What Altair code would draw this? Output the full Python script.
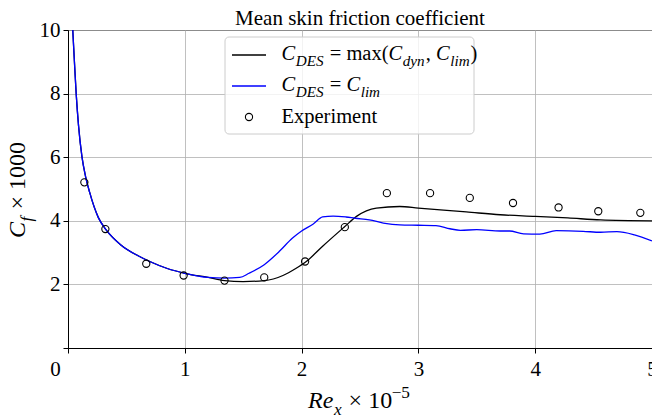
import altair as alt
import pandas as pd

# ---------------- data ----------------
sim_common_x = [0.035, 0.055, 0.07, 0.09, 0.12, 0.15, 0.185, 0.26, 0.33, 0.45, 0.6, 0.7, 0.85, 1.0, 1.2]
sim_common_y = [10.4, 9.0, 8.0, 7.0, 6.0, 5.4, 4.9, 4.1, 3.7, 3.25, 2.9, 2.72, 2.5, 2.35, 2.22]

dyn_x = [1.34, 1.5, 1.68, 1.84, 1.95, 2.04, 2.18, 2.37, 2.47, 2.64, 2.84, 3.0, 3.41, 3.7, 4.0, 4.28, 4.56, 5.0]
dyn_y = [2.12, 2.09, 2.12, 2.28, 2.5, 2.72, 3.2, 3.82, 4.14, 4.4, 4.45, 4.40, 4.28, 4.19, 4.14, 4.09, 4.03, 4.0]

lim_x = [1.34, 1.47, 1.55, 1.68, 1.81, 1.92, 2.0, 2.1, 2.18, 2.27, 2.38, 2.46, 2.58, 2.7, 2.84,
         3.0, 3.15, 3.27, 3.36, 3.5, 3.7, 3.78, 3.9, 4.04, 4.18, 4.41, 4.56, 4.7, 4.85, 5.0]
lim_y = [2.2, 2.22, 2.35, 2.62, 3.04, 3.45, 3.68, 3.9, 4.12, 4.15, 4.12, 4.08, 4.03, 3.93, 3.87,
         3.86, 3.85, 3.75, 3.7, 3.72, 3.68, 3.68, 3.59, 3.58, 3.69, 3.67, 3.64, 3.66, 3.56, 3.37]

exp_x = [0.14, 0.32, 0.67, 0.99, 1.34, 1.68, 2.03, 2.37, 2.73, 3.10, 3.44, 3.81, 4.20, 4.54, 4.90]
exp_y = [5.21, 3.74, 2.65, 2.28, 2.12, 2.22, 2.72, 3.80, 4.87, 4.87, 4.72, 4.56, 4.42, 4.30, 4.25]

x_ticks = [0, 1, 2, 3, 4, 5]
y_ticks = [0, 2, 4, 6, 8, 10]

title_text = "Mean skin friction coefficient"
# rich-text labels: (text, italic, kind) kind: n=normal, sub, sup
leg1 = [("C", True, "n"), ("DES", True, "sub"), (" = max(", False, "n"), ("C", True, "n"),
        ("dyn", True, "sub"), (", ", False, "n"), ("C", True, "n"), ("lim", True, "sub"),
        (")", False, "n")]
leg2 = [("C", True, "n"), ("DES", True, "sub"), (" = ", False, "n"), ("C", True, "n"), ("lim", True, "sub")]
leg3 = [("Experiment", False, "n")]
xlab = [("Re", True, "n"), ("x", True, "sub"), (" × 10", False, "n"), ("−5", False, "sup")]
ylab = [("C", True, "n"), ("f", True, "sub"), (" × 1000", False, "n")]

# ---------------- layout ----------------
L, T, W, H = 68, 30, 584, 318
FONT = "Liberation Serif"

W_R = {' ': 250, '=': 564, '×': 564, 'm': 778, 'a': 444, 'x': 500, '(': 333, ')': 333, ',': 250,
       '0': 500, '1': 500, '5': 500, '−': 564, 'E': 611, 'p': 500, 'e': 444, 'r': 333, 'i': 278,
       'n': 500, 't': 278}
W_I = {'C': 667, 'D': 722, 'E': 611, 'S': 500, 'd': 500, 'y': 444, 'n': 500, 'l': 278, 'i': 278,
       'm': 722, 'f': 278, 'R': 611, 'e': 444, 'x': 444}


def compose(segs, x0, y0, size, rot=False, sub_scale=0.72):
    out = []
    pos = 0.0
    prev_kind = "n"
    for txt, it, kind in segs:
        s = size * sub_scale if kind != "n" else size
        d = 0.3 * size if kind == "sub" else (-0.42 * size if kind == "sup" else 0.0)
        if kind == "sub":
            pos += 0.6
        if kind == "sup":
            pos -= 0.5
        if prev_kind == "sub" and kind == "n":
            pos += 1.0
        tbl = W_I if it else W_R
        lead = len(txt) - len(txt.lstrip(" "))
        w = sum(tbl.get(c, 500) for c in txt) * s / 1000.0
        start = pos + lead * W_R[" "] * s / 1000.0
        if rot:
            px, py = x0 + d, y0 - start
        else:
            px, py = x0 + start, y0 + d
        if txt.strip():
            out.append({"t": txt.strip(), "px": px - L, "py": py - T, "fs": s,
                        "it": "italic" if it else "normal", "ang": 270 if rot else 0})
        pos += w
        prev_kind = kind
    return out


rows = []
rows += compose(leg1, 281.5, 60, 20.5, sub_scale=0.74)
rows += compose(leg2, 281.5, 91, 20.5, sub_scale=0.74)
rows += compose(leg3, 281.5, 123, 20.5)
rows += compose(xlab, 308, 408, 24)
rows += compose(ylab, 25, 238, 24, rot=True)
txt_df = pd.DataFrame(rows)

lines_df = pd.DataFrame(
    {"x": sim_common_x + dyn_x, "y": sim_common_y + dyn_y, "s": "dyn"}
)
lines_df = pd.concat([lines_df, pd.DataFrame(
    {"x": sim_common_x + lim_x, "y": sim_common_y + lim_y, "s": "lim"})], ignore_index=True)
exp_df = pd.DataFrame({"x": exp_x, "y": exp_y})

xs = alt.Scale(domain=[0, 5], nice=False)
ys = alt.Scale(domain=[0, 10], nice=False)

xaxis = alt.Axis(values=x_ticks, title=None, grid=True, labelFlush=False, labelFont=FONT, labelFontSize=21,
                 labelOffset=alt.ExprRef("datum.value == 0 ? -13 : 0"), labelPadding=5)
yaxis = alt.Axis(values=y_ticks, title=None, grid=True, labelFont=FONT, labelFontSize=21,
                 labelExpr="datum.value == 0 ? '' : datum.label", labelPadding=3)

base_lines = alt.Chart(lines_df).mark_line(strokeWidth=1.3, clip=True, interpolate="monotone").encode(
    x=alt.X("x:Q", scale=xs, axis=xaxis),
    y=alt.Y("y:Q", scale=ys, axis=yaxis),
    color=alt.Color("s:N", scale=alt.Scale(domain=["dyn", "lim"], range=["#000000", "#0000ff"]), legend=None),
    order=alt.Order("x:Q"),
)

pts = alt.Chart(exp_df).mark_point(shape="circle", filled=False, size=52, color="black",
                                    strokeWidth=1.1, opacity=1).encode(
    x=alt.X("x:Q", scale=xs, axis=None), y=alt.Y("y:Q", scale=ys, axis=None))

one = pd.DataFrame({"k": [0]})
box = alt.Chart(one).mark_rect(fill="white", fillOpacity=0.8, stroke="#cccccc", strokeWidth=1,
                               cornerRadius=4).encode(
    x=alt.value(225 - L), x2=alt.value(474 - L), y=alt.value(37 - T), y2=alt.value(134 - T))
h1 = alt.Chart(one).mark_rule(color="black", strokeWidth=1.5).encode(
    x=alt.value(232 - L), x2=alt.value(266 - L), y=alt.value(55 - T))
h2 = alt.Chart(one).mark_rule(color="#0000ff", strokeWidth=1.5).encode(
    x=alt.value(232 - L), x2=alt.value(266 - L), y=alt.value(86 - T))
h3 = alt.Chart(one).mark_point(shape="circle", filled=False, size=52, color="black",
                               strokeWidth=1.1, opacity=1).encode(
    x=alt.value(249 - L), y=alt.value(117 - T))

title = alt.Chart(pd.DataFrame({"t": [title_text]})).mark_text(
    font=FONT, fontSize=21, align="center", baseline="alphabetic", color="black").encode(
    x=alt.value(360 - L), y=alt.value(25 - T), text="t:N")


def txt_layer(style):
    return alt.Chart(txt_df).transform_filter(alt.datum.it == style).mark_text(
        font=FONT, fontStyle=style, align="left", baseline="alphabetic", color="black").encode(
        x=alt.X("px:Q", scale=None, axis=None),
        y=alt.Y("py:Q", scale=None, axis=None),
        size=alt.Size("fs:Q", scale=None, legend=None),
        angle=alt.Angle("ang:Q", scale=None),
        text="t:N",
    )


chart = alt.layer(base_lines, pts, box, h1, h2, h3, title, txt_layer("italic"), txt_layer("normal")).resolve_scale(
    x="independent", y="independent", size="independent", angle="independent"
).properties(
    width=W, height=H,
    autosize=alt.AutoSizeParams(type="none"),
    padding={"left": L, "top": T, "right": 0, "bottom": 418 - T - H},
).configure_view(stroke="black", strokeWidth=1).configure_axis(
    domainColor="black", tickColor="black", tickSize=5, tickWidth=1, domainWidth=1,
    gridColor="#b0b0b0", gridWidth=0.8, labelFont=FONT, labelFontSize=21, labelColor="black",
)

chart.save("out.html", embed_options={"renderer": "svg", "actions": False})
